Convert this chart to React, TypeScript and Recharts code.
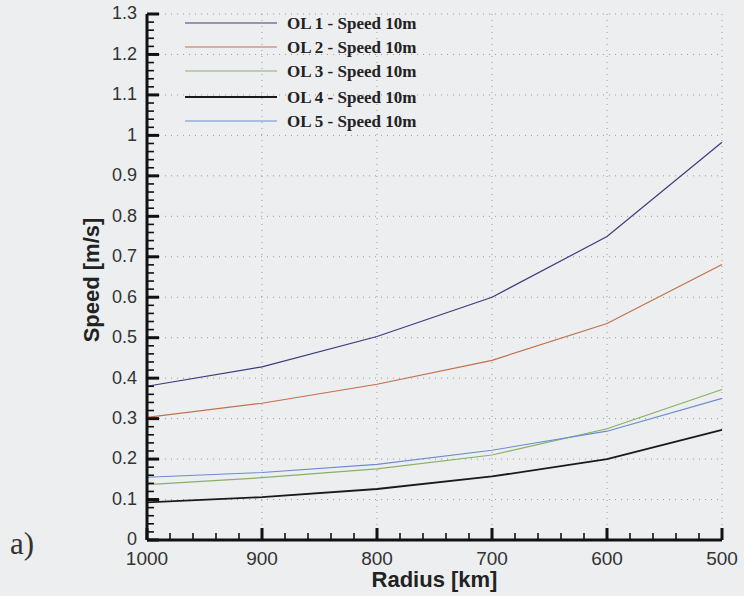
import { LineChart, Line, XAxis, YAxis, CartesianGrid, Legend } from "recharts";

// radius [km] and speed [m/s]
const radius = [1000, 900, 800, 700, 600, 500];
const ol1 = [0.38, 0.428, 0.503, 0.6, 0.75, 0.983];
const ol2 = [0.303, 0.338, 0.385, 0.444, 0.535, 0.681];
const ol3 = [0.137, 0.154, 0.176, 0.21, 0.275, 0.372];
const ol4 = [0.093, 0.106, 0.126, 0.157, 0.2, 0.272];
const ol5 = [0.155, 0.167, 0.187, 0.222, 0.269, 0.35];

const seriesNames = [
  "OL 1 - Speed 10m",
  "OL 2 - Speed 10m",
  "OL 3 - Speed 10m",
  "OL 4 - Speed 10m",
  "OL 5 - Speed 10m",
];
const seriesColors = ["#3c3c7c", "#c2704c", "#8ab062", "#1a1a1a", "#6c8cd0"];
const seriesWidths = [1.2, 1.2, 1.2, 1.8, 1.1];

const xMajor = [1000, 900, 800, 700, 600, 500];
const yMajor = [0, 0.1, 0.2, 0.3, 0.4, 0.5, 0.6, 0.7, 0.8, 0.9, 1, 1.1, 1.2, 1.3];
// minor ticks: every 20 km and every 0.02 m/s
const xMinor = Array.from({ length: 26 }, (_, i) => 500 + i * 20);
const yMinor = Array.from({ length: 66 }, (_, i) => i / 50);

const data = radius.map((r, i) => ({
  radius: r,
  s0: ol1[i],
  s1: ol2[i],
  s2: ol3[i],
  s3: ol4[i],
  s4: ol5[i],
}));

const SANS = "'Liberation Sans', Arial, Helvetica, sans-serif";
const SERIF = "'Liberation Serif', 'Times New Roman', serif";
const X_MARGIN = 12;
const Y_MARGIN = 10;

const isMajorY = (v: number) => Math.abs(v * 10 - Math.round(v * 10)) < 1e-6;

const XTick = (props: any) => {
  const { x, y, payload } = props;
  const major = xMajor.includes(payload.value);
  const base = y - X_MARGIN;
  return (
    <g>
      <line x1={x} x2={x} y1={base} y2={base - (major ? 12 : 7)} stroke="#111" strokeWidth={major ? 3 : 1.6} />
      {major && (
        <text x={x} y={y} dy="0.71em" textAnchor="middle" fill="#333" fontSize={19} fontFamily={SANS}>
          {payload.value}
        </text>
      )}
    </g>
  );
};

const YTick = (props: any) => {
  const { x, y, payload } = props;
  const major = isMajorY(payload.value);
  const base = x + Y_MARGIN;
  return (
    <g>
      <line x1={base} x2={base + (major ? 12 : 7)} y1={y} y2={y} stroke="#111" strokeWidth={major ? 3 : 1.6} />
      {major && (
        <text x={x} y={y} dy="0.3em" textAnchor="end" fill="#333" fontSize={18} fontFamily={SANS}>
          {String(Math.round(payload.value * 10) / 10)}
        </text>
      )}
    </g>
  );
};

const renderLegend = (props: any) => {
  const items = props.payload || [];
  const rows = [23, 47, 71, 97, 121];
  return (
    <svg width={290} height={135} style={{ display: "block" }}>
      {items.map((it: any, i: number) => (
        <g key={i}>
          <line x1={5} x2={97} y1={rows[i]} y2={rows[i]} stroke={it.color} strokeWidth={seriesWidths[i]} />
          <text x={107} y={rows[i]} dy="0.33em" fontSize={17} fontWeight="bold" fontFamily={SERIF} fill="#222">
            {it.value}
          </text>
        </g>
      ))}
    </svg>
  );
};

export default function App() {
  return (
    <div style={{ position: "absolute", left: 0, top: 0, width: 744, height: 596, background: "#eceef0" }}>
      <LineChart width={744} height={596} data={data} margin={{ top: 14, right: 22, left: 0, bottom: 0 }}>
        <CartesianGrid
          stroke="#999"
          strokeDasharray="1 5"
          horizontalValues={yMajor}
          verticalValues={xMajor}
        />
        <XAxis
          dataKey="radius"
          type="number"
          domain={[500, 1000]}
          reversed
          ticks={xMinor}
          interval={0}
          height={56}
          tickSize={0}
          tickMargin={X_MARGIN}
          tickLine={false}
          axisLine={{ stroke: "#111", strokeWidth: 3 }}
          tick={<XTick />}
          label={{
            content: (p: any) => {
              const vb = p.viewBox || {};
              return (
                <text
                  x={vb.x + vb.width / 2}
                  y={vb.y + 39}
                  dy="0.36em"
                  textAnchor="middle"
                  fontSize={22}
                  fontWeight="bold"
                  fontFamily={SANS}
                  fill="#222"
                >
                  Radius [km]
                </text>
              );
            },
          }}
        />
        <YAxis
          type="number"
          domain={[0, 1.3]}
          ticks={yMinor}
          interval={0}
          width={147}
          tickSize={0}
          tickMargin={Y_MARGIN}
          tickLine={false}
          axisLine={{ stroke: "#111", strokeWidth: 3 }}
          tick={<YTick />}
          label={{
            content: (p: any) => {
              const vb = p.viewBox || {};
              const cx = 91;
              const cy = vb.y + vb.height / 2 + 3;
              return (
                <text
                  x={cx}
                  y={cy}
                  dy="0.36em"
                  textAnchor="middle"
                  transform={`rotate(-90 ${cx} ${cy})`}
                  fontSize={22}
                  fontWeight="bold"
                  fontFamily={SANS}
                  fill="#222"
                >
                  Speed [m/s]
                </text>
              );
            },
          }}
        />
        <Legend
          layout="vertical"
          align="center"
          verticalAlign="middle"
          content={renderLegend}
          wrapperStyle={{ position: "absolute", left: 180, top: 0, width: 290, height: 135 }}
        />
        {seriesNames.map((name, i) => (
          <Line
            key={name}
            type="linear"
            dataKey={`s${i}`}
            name={name}
            stroke={seriesColors[i]}
            strokeWidth={seriesWidths[i]}
            dot={false}
            activeDot={false}
            isAnimationActive={false}
          />
        ))}
      </LineChart>
      <div
        style={{
          position: "absolute",
          left: 10,
          top: 526,
          fontSize: 31,
          fontFamily: SERIF,
          color: "#333",
          lineHeight: "36px",
        }}
      >
        a)
      </div>
    </div>
  );
}
